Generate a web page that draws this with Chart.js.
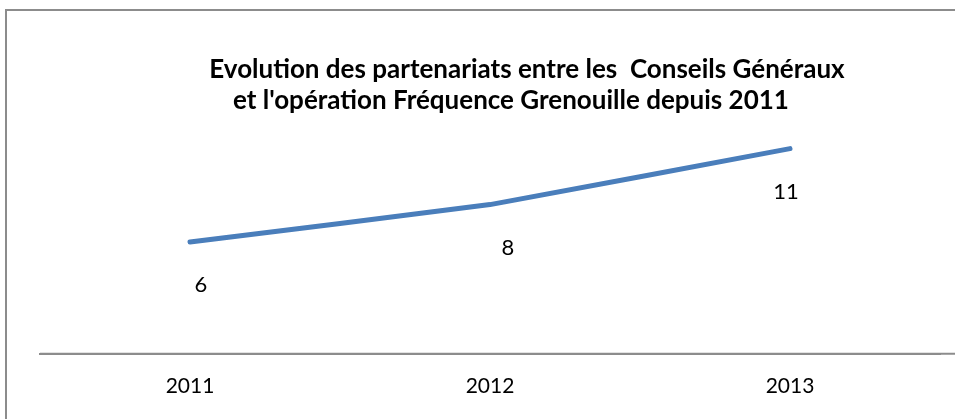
<!DOCTYPE html>
<html>
<head>
<meta charset="utf-8">
<script src="https://cdn.jsdelivr.net/npm/chart.js@4"></script>
<style>
  html, body { margin: 0; padding: 0; background: #fff; overflow: hidden; }
  #wrap { width: 955px; height: 419px; position: relative; }
</style>
</head>
<body>
<div id="wrap"><canvas id="line-chart" width="955" height="419"></canvas></div>
<script>
const years = ['2011', '2012', '2013'];
const partenariats = [6, 8, 11];
const titleLines = [
  'Evolution des partenariats entre les  Conseils Généraux',
  "et l'opération Fréquence Grenouille depuis 2011"
];

const fontFamily = 'Lato, "Open Sans", sans-serif';

// frame + title, drawn like the excel chart area
const frame_and_title = {
  id: 'frameTitle',
  beforeDraw(chart) {
    const c = chart.ctx;
    c.save();
    c.strokeStyle = '#8c8c8c';
    c.lineWidth = 2;
    c.strokeRect(6, 10, 1000, 1000);
    c.fillStyle = '#000';
    c.font = 'bold 26px ' + fontFamily;
    c.textAlign = 'center';
    c.textBaseline = 'middle';
    c.fillText(titleLines[0], 527, 70);
    c.fillText(titleLines[1], 511, 101);
    c.restore();
  }
};

// x axis line runs on to the right edge like in the excel export
const axis_line = {
  id: 'axisLine',
  beforeDatasetsDraw(chart) {
    const c = chart.ctx;
    const y = chart.scales.x.top;
    c.save();
    c.strokeStyle = '#8c8c8c';
    c.lineWidth = 2;
    c.beginPath();
    c.moveTo(chart.chartArea.left, y);
    c.lineTo(chart.width, y);
    c.stroke();
    c.restore();
  }
};

// value labels under each point
const value_labels = {
  id: 'valueLabels',
  afterDatasetsDraw(chart) {
    const c = chart.ctx;
    const meta = chart.getDatasetMeta(0);
    const dx = [11, 18, -4];
    c.save();
    c.fillStyle = '#000';
    c.font = '22px ' + fontFamily;
    c.textAlign = 'center';
    c.textBaseline = 'middle';
    meta.data.forEach((pt, i) => {
      c.fillText(String(partenariats[i]), pt.x + dx[i], pt.y + 43);
    });
    c.restore();
  }
};

const ctx = document.getElementById('line-chart').getContext('2d');
const myChart = new Chart(ctx, {
  type: 'line',
  data: {
    labels: years,
    datasets: [{
      data: partenariats,
      borderColor: '#4a7ebb',
      borderWidth: 5,
      borderCapStyle: 'round',
      borderJoinStyle: 'round',
      pointRadius: 0,
      tension: 0.05,
      fill: false
    }]
  },
  options: {
    responsive: false,
    animation: false,
    layout: { padding: { left: 40, right: 15, top: 130, bottom: 0 } },
    plugins: {
      legend: { display: false },
      title: { display: false },
      tooltip: { enabled: false }
    },
    scales: {
      x: {
        offset: true,
        grid: { display: false, drawTicks: false },
        border: { display: true, color: '#8c8c8c', width: 2 },
        ticks: {
          color: '#000',
          padding: 20,
          font: { family: fontFamily, size: 21 }
        }
      },
      y: {
        display: false,
        min: 0,
        max: 12
      }
    }
  },
  plugins: [frame_and_title, axis_line, value_labels]
});
</script>
</body>
</html>
